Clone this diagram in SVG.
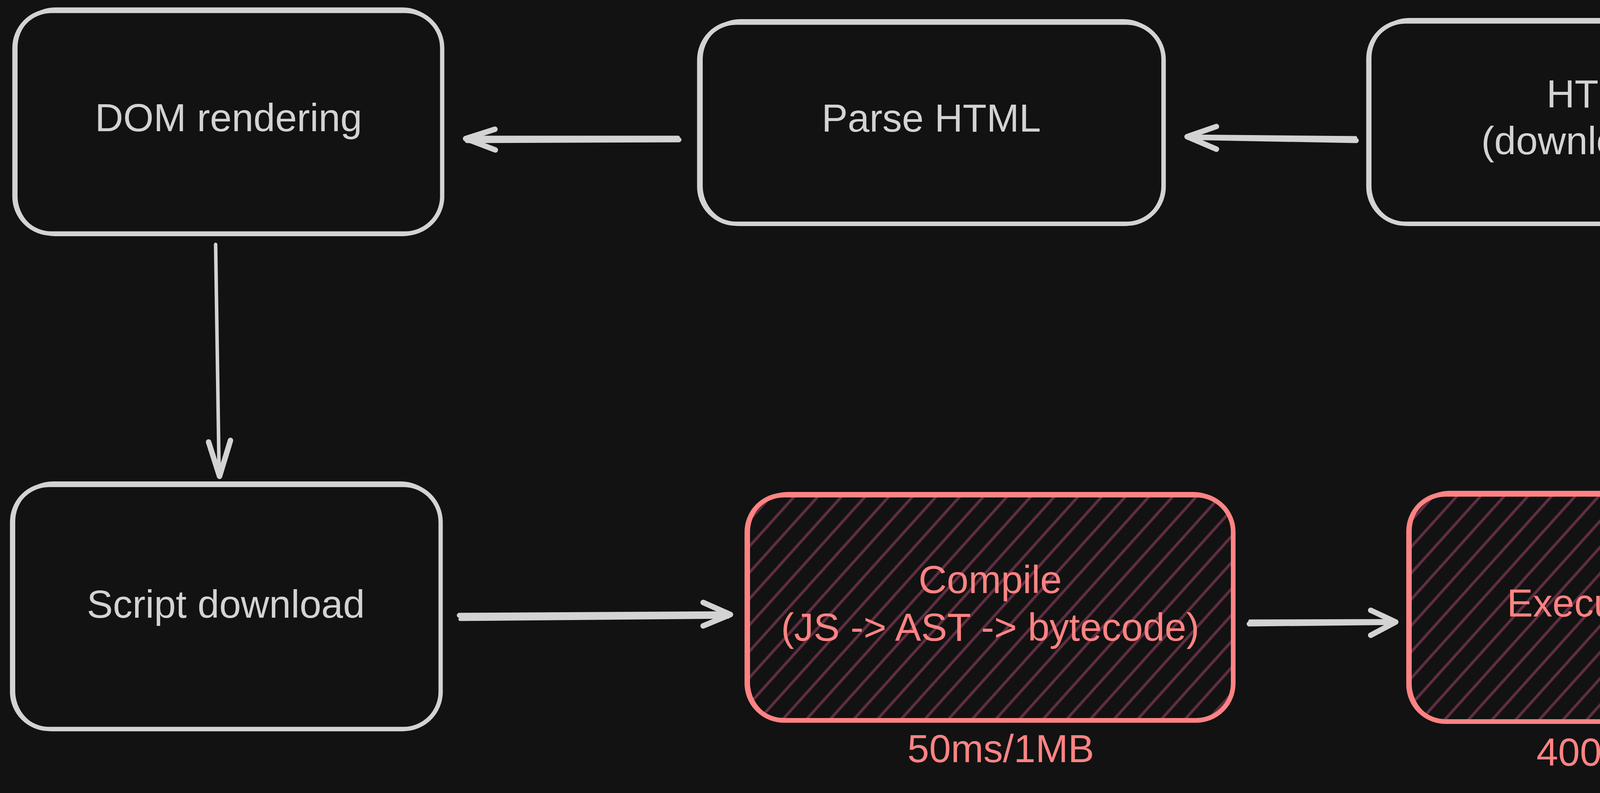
<svg xmlns="http://www.w3.org/2000/svg" width="6488" height="2031" viewBox="0 0 6488 2031">
  <style>
    .bg { fill: #121212; }
    .box { fill: #121212; stroke: #d3d3d3; stroke-width: 11; stroke-linejoin: round; }
    .box2 { fill: none; stroke: #d3d3d3; stroke-width: 6; stroke-linejoin: round; }
    .rbox { fill: url(#hatch); stroke: #ff8383; stroke-width: 12; stroke-linejoin: round; }
    .rbox2 { fill: none; stroke: #ff8383; stroke-width: 6; stroke-linejoin: round; }
    .lbl { font-family: "Liberation Sans", Arial, sans-serif; font-size: 100px; fill: #d3d3d3; text-anchor: middle; }
    .rlbl { font-family: "Liberation Sans", Arial, sans-serif; font-size: 100px; fill: #ff8383; text-anchor: middle; }
    .shaft { fill: none; stroke: #d3d3d3; stroke-width: 13; stroke-linecap: round; }
    .shaft2 { fill: none; stroke: #d3d3d3; stroke-width: 9; stroke-linecap: round; }
    .head { fill: none; stroke: #d3d3d3; stroke-width: 14; stroke-linecap: round; stroke-linejoin: round; }
  </style>
  <defs>
    <pattern id="hatch" patternUnits="userSpaceOnUse" width="45" height="45" patternTransform="rotate(42)">
      <rect x="0" y="0" width="45" height="45" fill="#121212"/>
      <line x1="22" y1="-5" x2="22" y2="50" stroke="#612e42" stroke-width="7"/>
    </pattern>
  </defs>

  <rect class="bg" x="0" y="0" width="6488" height="2031"/>

  <g id="connectors">
    <!-- User Visits a page -> HTML -->
    <path class="shaft" d="M 5210 338 L 4735 320"/>
    <path class="shaft2" d="M 5208 328 L 4740 322"/>
    <polyline class="head" points="4796,296 4731,319 4796,356"/>
    <!-- HTML -> Parse HTML -->
    <path class="shaft" d="M 3472 360 L 3042 352"/>
    <path class="shaft2" d="M 3470 353 L 3045 349"/>
    <polyline class="head" points="3114,324 3039,350 3114,382"/>
    <!-- Parse HTML -> DOM rendering -->
    <path class="shaft" d="M 1738 358 L 1196 360"/>
    <path class="shaft2" d="M 1736 352 L 1198 352"/>
    <polyline class="head" points="1267,331 1192,355 1268,384"/>
    <!-- DOM rendering -> Script download -->
    <path class="shaft2" d="M 552 626 L 561 1218"/>
    <polyline class="head" points="534,1132 562,1220 590,1128"/>
    <!-- Script download -> Compile -->
    <path class="shaft" d="M 1176 1576 L 1866 1572"/>
    <path class="shaft2" d="M 1178 1586 L 1864 1580"/>
    <polyline class="head" points="1800,1543 1870,1574 1800,1603"/>
    <!-- Compile -> Execute Script -->
    <path class="shaft" d="M 3198 1598 L 3570 1594"/>
    <path class="shaft2" d="M 3200 1591 L 3568 1590"/>
    <polyline class="head" points="3509,1563 3573,1593 3509,1627"/>
    <!-- Execute Script -> Page loaded -->
    <path class="shaft" d="M 4812 1600 L 5370 1588"/>
    <path class="shaft2" d="M 4815 1592 L 5368 1584"/>
    <polyline class="head" points="5303,1564 5373,1587 5303,1627"/>
  </g>

  <g id="node-dom-rendering">
    <rect class="box" x="37" y="28" width="1095" height="570" rx="95" ry="95"/>
    <rect class="box2" x="42" y="22" width="1088" height="580" rx="100" ry="100"/>
    <text class="lbl" x="585" y="336">DOM rendering</text>
  </g>

  <g id="node-parse-html">
    <rect class="box" x="1790" y="58" width="1189" height="515" rx="95" ry="95"/>
    <rect class="box2" x="1796" y="52" width="1180" height="524" rx="100" ry="100"/>
    <text class="lbl" x="2384" y="337">Parse HTML</text>
  </g>

  <g id="node-html-downloaded">
    <rect class="box" x="3503" y="55" width="1185" height="518" rx="95" ry="95"/>
    <rect class="box2" x="3508" y="49" width="1178" height="527" rx="100" ry="100"/>
    <text class="lbl" x="4095" y="275">HTML</text>
    <text class="lbl" x="4095" y="395">(downloaded)</text>
  </g>

  <g id="node-user-visits">
    <rect class="box" x="5247" y="55" width="1183" height="521" rx="95" ry="95"/>
    <rect class="box2" x="5252" y="49" width="1176" height="530" rx="100" ry="100"/>
    <text class="lbl" x="5840" y="340">User Visits a page</text>
  </g>

  <g id="node-script-download">
    <rect class="box" x="31" y="1242" width="1097" height="625" rx="95" ry="95"/>
    <rect class="box2" x="36" y="1236" width="1090" height="634" rx="100" ry="100"/>
    <text class="lbl" x="578" y="1582">Script download</text>
  </g>

  <g id="node-compile">
    <rect class="rbox" x="1912" y="1268" width="1245" height="577" rx="95" ry="95"/>
    <rect class="rbox2" x="1917" y="1263" width="1238" height="585" rx="100" ry="100"/>
    <text class="rlbl" x="2535" y="1519">Compile</text>
    <text class="rlbl" x="2535" y="1641">(JS -&gt; AST -&gt; bytecode)</text>
  </g>

  <g id="label-compile-time">
    <text class="rlbl" x="2562" y="1952">50ms/1MB</text>
  </g>

  <g id="node-execute-script">
    <rect class="rbox" x="3606" y="1266" width="1148" height="582" rx="95" ry="95"/>
    <rect class="rbox2" x="3611" y="1260" width="1141" height="591" rx="100" ry="100"/>
    <text class="rlbl" x="4180" y="1579">Execute Script</text>
  </g>

  <g id="label-execute-time">
    <text class="rlbl" x="4200" y="1961">400ms/1MB</text>
  </g>

  <g id="node-page-loaded">
    <rect class="box" x="5412" y="1245" width="1045" height="625" rx="95" ry="95"/>
    <rect class="box2" x="5417" y="1239" width="1038" height="634" rx="100" ry="100"/>
    <text class="lbl" x="5934" y="1580">Page loaded</text>
  </g>
</svg>
